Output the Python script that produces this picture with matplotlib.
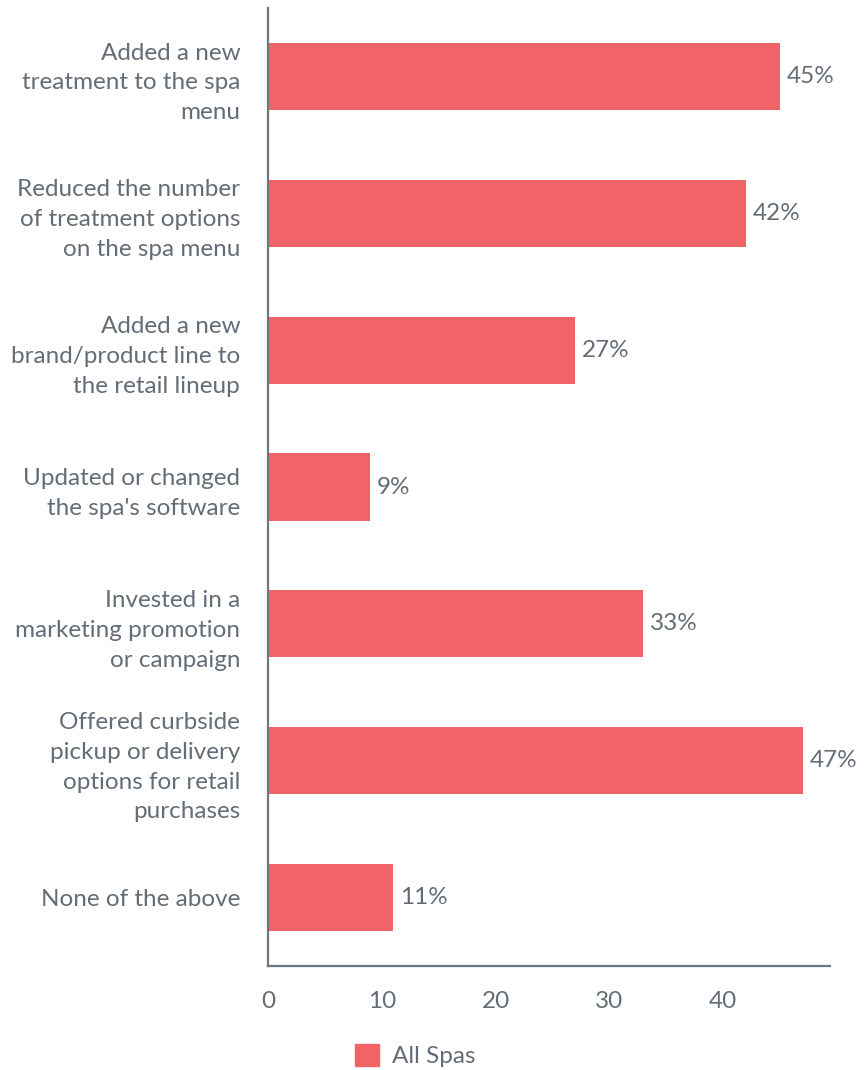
import matplotlib
matplotlib.use("Agg")
import matplotlib.pyplot as plt
from matplotlib.patches import Patch
from matplotlib.transforms import ScaledTranslation

plt.rcParams['font.family'] = ['Lato', 'DejaVu Sans']

categories = [
    "Added a new\ntreatment to the spa\nmenu",
    "Reduced the number\nof treatment options\non the spa menu",
    "Added a new\nbrand/product line to\nthe retail lineup",
    "Updated or changed\nthe spa's software",
    "Invested in a\nmarketing promotion\nor campaign",
    "Offered curbside\npickup or delivery\noptions for retail\npurchases",
    "None of the above",
]
values = [45, 42, 27, 9, 33, 47, 11]
series_name = "All Spas"

bar_color = "#F06467"
text_color = "#646D77"
axis_color = "#6E7780"
fs = 17.5

fig = plt.figure(figsize=(8.64, 10.7), dpi=100)
ax = fig.add_axes([0.3102, 0.0972, 0.6504, 0.8953])

y = list(range(len(categories)))
ax.barh(y, values, height=0.49, color=bar_color)
ax.set_ylim(len(categories) - 0.5, -0.5)
ax.set_xlim(0, 49.4)

# value labels at the end of each bar
for yi, v in zip(y, values):
    ax.text(v + 0.6, yi, f"{v}%", va="center", ha="left",
            fontsize=fs, color=text_color)

ax.set_yticks(y)
ax.set_yticklabels(categories, fontsize=fs, color=text_color,
                   linespacing=1.52, ha="right")
# nudge the wrapped category labels up a little
shift = ScaledTranslation(0, 3 / 100, fig.dpi_scale_trans)
for lab in ax.get_yticklabels():
    lab.set_transform(lab.get_transform() + shift)

ax.set_xticks([0, 10, 20, 30, 40])
ax.tick_params(axis='x', labelsize=fs, labelcolor=text_color, length=0, pad=18)
ax.tick_params(axis='y', length=0, pad=20)

for side in ("top", "right"):
    ax.spines[side].set_visible(False)
for side in ("left", "bottom"):
    ax.spines[side].set_color(axis_color)
    ax.spines[side].set_linewidth(1.6)

fig.legend(handles=[Patch(color=bar_color, label=series_name)],
           loc="center", bbox_to_anchor=(0.4805, 0.0135), frameon=False,
           fontsize=fs, labelcolor=text_color, handlelength=1.0,
           handleheight=1.0, handletextpad=0.55)

fig.savefig("out.png", dpi=100)
